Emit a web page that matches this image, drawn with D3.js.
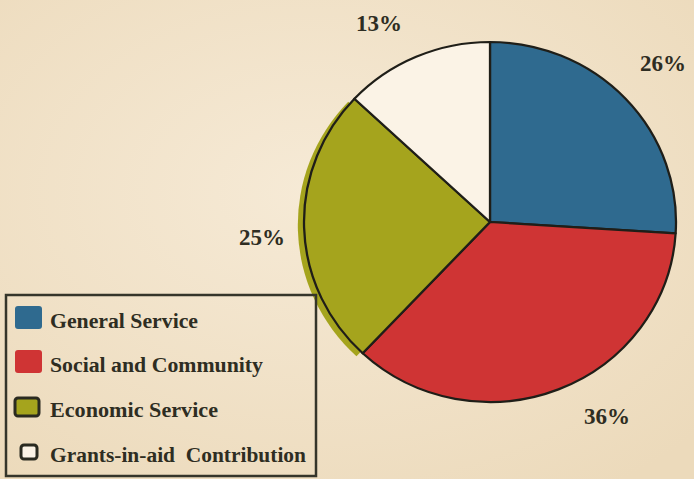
<!DOCTYPE html>
<html>
<head>
<meta charset="utf-8">
<script src="https://cdn.jsdelivr.net/npm/d3@7"></script>
<style>
  body { margin: 0; background: #f2e4cc; }
  svg { display: block; }
</style>
</head>
<body>
<div id="chart"></div>
<script>
// data
var categories = ["General Service", "Social and Community", "Economic Service", "Grants-in-aid  Contribution"];
var values = [26, 36, 25, 13];
var labels = ["26%", "36%", "25%", "13%"];
var colors = ["#2f6a8f", "#cf3434", "#a5a41d", "#fbf3e6"];

var width = 694, height = 479;
var cx = 490, cy = 222, rx = 186, ry = 180;

var svg = d3.select("#chart").append("svg")
  .attr("width", width)
  .attr("height", height);

// paper tone
var grad = svg.append("defs").append("radialGradient")
  .attr("id", "paper").attr("cx", "45%").attr("cy", "40%").attr("r", "75%");
grad.append("stop").attr("offset", "0%").attr("stop-color", "#f6ead6");
grad.append("stop").attr("offset", "100%").attr("stop-color", "#ecdabb");
svg.append("rect").attr("width", width).attr("height", height).attr("fill", "url(#paper)");

var pie = d3.pie().sort(null).value(function(d) { return d; });
var arcs = pie(values);
var arc = d3.arc().innerRadius(0).outerRadius(ry);

var g = svg.append("g")
  .attr("transform", "translate(" + cx + "," + cy + ") scale(" + (rx / ry) + ",1)");

// misregistered olive ink on the left
g.append("path")
  .attr("d", arc(arcs[2]))
  .attr("transform", "translate(-6,3)")
  .attr("fill", colors[2]);

g.selectAll("path.slice")
  .data(arcs)
  .enter().append("path")
  .attr("class", "slice")
  .attr("d", arc)
  .attr("fill", function(d, i) { return colors[i]; })
  .attr("stroke", "#1f1e18")
  .attr("stroke-width", 2.2)
  .attr("stroke-linejoin", "round");

// percentage labels outside the pie
var labelPos = [[663, 71], [607, 424], [262, 245], [379, 31]];
svg.selectAll("text.pct")
  .data(labels)
  .enter().append("text")
  .attr("class", "pct")
  .attr("x", function(d, i) { return labelPos[i][0]; })
  .attr("y", function(d, i) { return labelPos[i][1]; })
  .attr("text-anchor", "middle")
  .attr("font-family", "Liberation Serif, serif")
  .attr("font-weight", "bold")
  .attr("font-size", 23)
  .attr("fill", "#2e2d22")
  .text(function(d) { return d; });

// legend
var legend = svg.append("g");
legend.append("rect")
  .attr("x", 6).attr("y", 295)
  .attr("width", 310).attr("height", 181)
  .attr("fill", "none")
  .attr("stroke", "#35352a")
  .attr("stroke-width", 2.5);

var rowY = [318, 362, 407, 452];
var items = legend.selectAll("g.item")
  .data(categories)
  .enter().append("g")
  .attr("class", "item")
  .attr("transform", function(d, i) { return "translate(0," + rowY[i] + ")"; });

items.append("rect")
  .attr("x", function(d, i) { return i == 3 ? 21 : 15; })
  .attr("y", function(d, i) { return i == 3 ? -7 : (i == 2 ? -9 : -12); })
  .attr("width", function(d, i) { return i == 3 ? 16 : (i == 2 ? 24 : 27); })
  .attr("height", function(d, i) { return i == 3 ? 14 : (i == 2 ? 18 : 23); })
  .attr("rx", 3)
  .attr("fill", function(d, i) { return colors[i]; })
  .attr("stroke", function(d, i) { return i >= 2 ? "#2a2a20" : "none"; })
  .attr("stroke-width", 3);

items.append("text")
  .attr("x", 50)
  .attr("y", 10)
  .attr("font-family", "Liberation Serif, serif")
  .attr("font-weight", "bold")
  .attr("font-size", 20)
  .attr("fill", "#2e2d22")
  .attr("textLength", function(d, i) { return [148, 213, 168, 256][i]; })
  .attr("lengthAdjust", "spacingAndGlyphs")
  .style("white-space", "pre")
  .text(function(d) { return d; });
</script>
</body>
</html>
